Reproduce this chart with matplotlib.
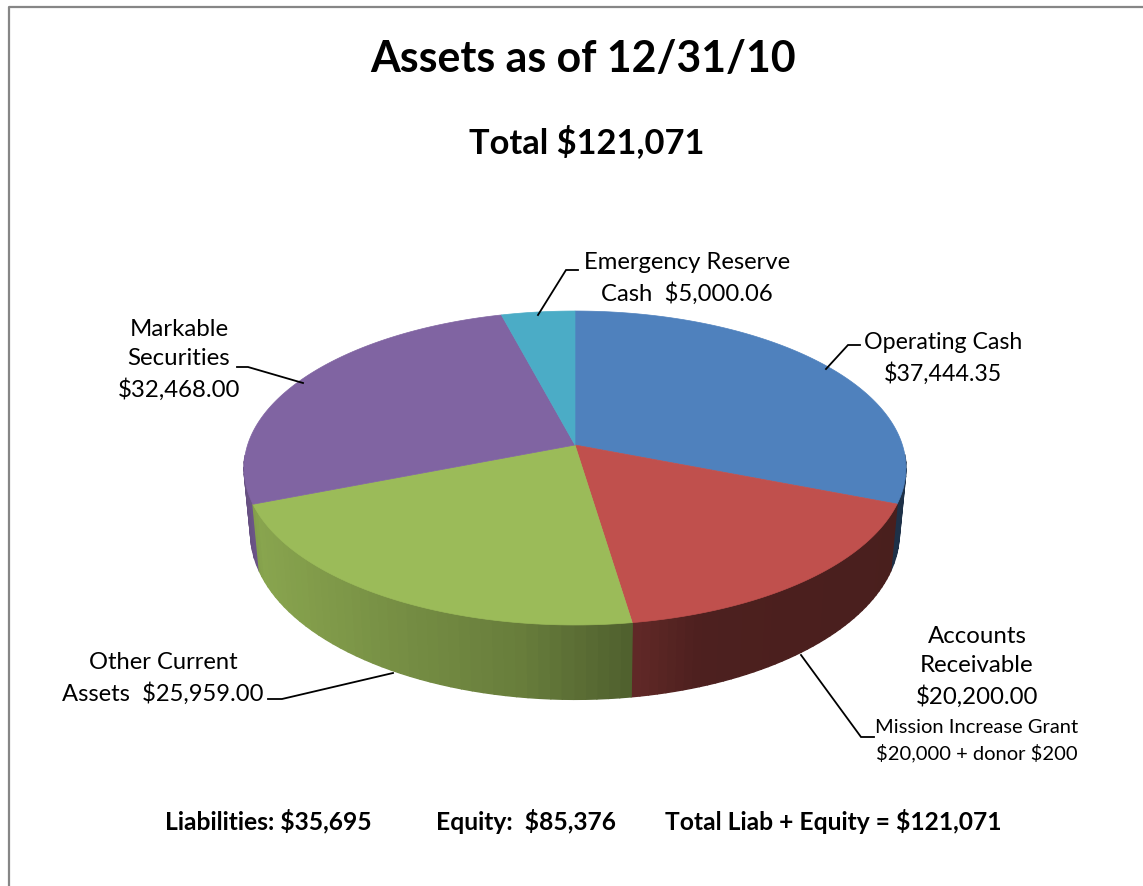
import numpy as np
from matplotlib import pyplot as plt
from matplotlib.collections import PolyCollection
from matplotlib.colors import to_rgb
from matplotlib.patches import Polygon

plt.rcParams['font.family'] = ['Lato', 'DejaVu Sans']

# slices, clockwise from 12 o'clock
categories = ['Operating Cash', 'Accounts Receivable', 'Other Current Assets',
              'Markable Securities', 'Emergency Reserve Cash']
values = [37444.35, 20200.00, 25959.00, 32468.00, 5000.06]
colors = ['#4F81BD', '#C0504D', '#9BBB59', '#8064A2', '#4BACC6']

title = 'Assets as of 12/31/10'
subtitle = r'Total \$121,071'
footer = [r'Liabilities: \$35,695', r'Equity:  \$85,376', r'Total Liab + Equity = \$121,071']

# tilted disc: centre, radii and perspective
CX, CY = 575, 445
A, B, K = 327.4, 153.6, 0.1465
DEPTH = 63.5
SHRINK = 0.98

# brightness of the side wall, going left to right
shade_x = [245, 260, 400, 520, 632, 700, 910]
shade_f = [0.80, 0.88, 0.76, 0.67, 0.51, 0.40, 0.38]


def top_xy(theta):
    w = 1 + K * np.cos(theta)
    return CX + A * np.sin(theta) / w, CY - B * np.cos(theta) / w


def bottom_xy(theta):
    x, y = top_xy(theta)
    w = 1 + K * np.cos(theta)
    return CX + (x - CX) * SHRINK, y + DEPTH / w


def draw_pie(ax):
    edges = np.cumsum([0] + values) / sum(values) * 2 * np.pi
    quads, quad_colors, depths = [], [], []
    for i, color in enumerate(colors):
        th = np.linspace(edges[i], edges[i + 1], 45)
        base = np.array(to_rgb(color))
        xt, yt = top_xy(th)
        xb, yb = bottom_xy(th)
        for j in range(len(th) - 1):
            # back of the wall is hidden behind the top, and its stroke would show on the rim
            if np.cos(th[j]) > -0.1 and np.cos(th[j + 1]) > -0.1:
                continue
            quads.append([(xt[j], yt[j]), (xt[j + 1], yt[j + 1]),
                          (xb[j + 1], yb[j + 1]), (xb[j], yb[j])])
            quad_colors.append(base * np.interp((xt[j] + xt[j + 1]) / 2, shade_x, shade_f))
            depths.append(np.cos(th[j]))
    order = np.argsort(depths)[::-1]
    sides = PolyCollection([quads[k] for k in order],
                           facecolors=[quad_colors[k] for k in order],
                           edgecolors='face', linewidths=1.0, zorder=2)
    ax.add_collection(sides)

    for i, color in enumerate(colors):
        th = np.linspace(edges[i], edges[i + 1], 200)
        xt, yt = top_xy(th)
        pts = np.column_stack([np.r_[CX, xt], np.r_[CY, yt]])
        ax.add_patch(Polygon(pts, closed=True, facecolor=color, edgecolor=color,
                             linewidth=0.5, zorder=3))


fig = plt.figure(figsize=(11.43, 8.86), dpi=100)
ax = fig.add_axes([0, 0, 1, 1])
ax.set_xlim(0, 1143)
ax.set_ylim(886, 0)
ax.axis('off')

# chart border, only top and left are inside the picture
ax.plot([8.5, 8.5, 1143], [886, 6.5, 6.5], color='#868686', lw=1.6, zorder=1)

draw_pie(ax)

ax.text(583, 59, title, fontsize=30.9, fontweight='bold', ha='center', va='center')
ax.text(587, 142, subtitle, fontsize=24.8, fontweight='bold', ha='center', va='center')

labels = [
    (687, 278, 'Emergency Reserve\n' + r'Cash  \$5,000.06', 17.2),
    (943, 358, 'Operating Cash\n' + r'\$37,444.35', 16.7),
    (179, 360, 'Markable\nSecurities\n' + r'\$32,468.00', 17.3),
    (977, 667, 'Accounts\nReceivable\n' + r'\$20,200.00', 17.3),
    (977, 741, 'Mission Increase Grant\n' + r'\$20,000 + donor \$200', 14.5),
    (163, 678, 'Other Current\n' + r'Assets  \$25,959.00', 17.1),
]
for x, y, txt, size in labels:
    ax.text(x, y, txt, fontsize=size, ha='center', va='center', linespacing=1.5, zorder=4)

leaders = [
    ([538, 566, 578], [315, 270, 270]),
    ([826, 848, 860], [369, 345, 345]),
    ([303, 248, 237], [383, 367, 367]),
    ([801, 861, 874], [655, 737, 737]),
    ([393, 282, 268], [673, 699, 699]),
]
for xs, ys in leaders:
    ax.plot(xs, ys, color='black', lw=1.3, zorder=5, solid_joinstyle='miter')

for x, txt in zip([268, 525.5, 833], footer):
    ax.text(x, 821, txt, fontsize=17.7, fontweight='bold', ha='center', va='center')

fig.savefig('out.png', dpi=100)
plt.close(fig)
